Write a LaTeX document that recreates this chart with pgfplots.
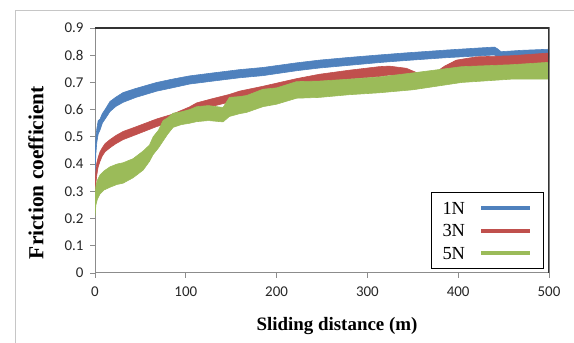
\documentclass[border=0pt]{standalone}
\usepackage{fontspec}
\setmainfont{Liberation Serif}
\newfontfamily\carlito{Carlito}
\usepackage{pgfplots}
\pgfplotsset{compat=1.18}
\usepackage{pgfplotstable}
\usepgfplotslibrary{fillbetween}
\definecolor{cblue}{HTML}{4F81BD}
\definecolor{cred}{HTML}{C0504D}
\definecolor{cgreen}{HTML}{9BBB59}
\definecolor{axgray}{HTML}{8C8C8C}

\pgfplotstableread{
x lo hi
0 0.36 0.40
0.5 0.40 0.46
1 0.44 0.50
2 0.48 0.53
3.5 0.51 0.56
5.5 0.525 0.565
8 0.55 0.585
11 0.565 0.60
16.5 0.593 0.630
23 0.612 0.646
31 0.627 0.663
45 0.645 0.678
68 0.668 0.700
85 0.680 0.712
104 0.694 0.724
130 0.705 0.735
159 0.717 0.747
185 0.725 0.755
222 0.743 0.772
247 0.753 0.782
280 0.763 0.792
313 0.773 0.801
340 0.780 0.808
387 0.791 0.819
420 0.797 0.826
440 0.801 0.830
444 0.790 0.822
447 0.786 0.813
470 0.790 0.818
500 0.793 0.822
}\tblue

\pgfplotstableread{
x lo hi
0 0.27 0.31
0.5 0.30 0.35
1 0.33 0.38
2 0.36 0.405
3.5 0.39 0.425
5.5 0.41 0.445
8 0.43 0.46
11 0.445 0.475
16.5 0.460 0.490
23 0.475 0.505
31 0.490 0.520
45 0.508 0.537
68 0.538 0.566
85 0.555 0.583
104 0.580 0.610
112 0.597 0.625
130 0.613 0.641
148 0.628 0.656
159 0.640 0.668
185 0.658 0.686
222 0.686 0.714
247 0.700 0.730
280 0.713 0.745
313 0.722 0.758
324 0.727 0.760
343 0.722 0.752
355 0.688 0.735
370 0.688 0.725
385 0.705 0.760
398 0.740 0.782
420 0.758 0.794
458 0.762 0.798
500 0.772 0.808
}\tred

\pgfplotstableread{
x lo hi
0 0.21 0.29
1 0.25 0.32
2.5 0.27 0.34
5.5 0.29 0.36
10 0.305 0.375
16.5 0.315 0.39
24 0.325 0.40
31 0.33 0.405
42 0.350 0.420
53 0.378 0.448
60 0.41 0.47
64 0.435 0.50
70 0.46 0.525
75 0.485 0.56
80 0.51 0.57
86 0.535 0.587
95 0.545 0.592
104 0.55 0.600
112 0.556 0.611
125 0.56 0.615
141 0.555 0.608
148 0.575 0.645
159 0.585 0.648
167 0.59 0.652
185 0.611 0.675
200 0.62 0.680
222 0.642 0.703
247 0.645 0.705
280 0.655 0.712
313 0.662 0.720
350 0.673 0.735
404 0.70 0.758
458 0.712 0.765
500 0.712 0.774
}\tgreen

\begin{document}
\begin{tikzpicture}
\draw[gray!45, line width=0.8bp] (15bp,0bp) -- (15bp,333bp) -- (580bp,333bp);
\begin{axis}[
  at={(95bp,70bp)}, anchor=south west,
  scale only axis, width=454bp, height=245bp,
  xmin=0, xmax=500, ymin=0, ymax=0.9,
  xtick={0,100,200,300,400,500},
  ytick={0,0.1,0.2,0.3,0.4,0.5,0.6,0.7,0.8,0.9},
  tick pos=left, tick align=outside, major tick length=5bp,
  every tick/.style={draw=axgray, line width=0.8bp},
  axis line style={draw=axgray, line width=1bp},
  /pgf/number format/assume math mode=true,
  tick label style={font=\carlito\fontsize{15}{15}\selectfont, text=black!85},
  x tick label style={yshift=-5bp},
  y tick label style={xshift=-3bp},
  xlabel={Sliding distance (m)},
  ylabel={Friction coefficient},
  xlabel style={at={(axis description cs:0.533,-0.233)}, anchor=base, font=\bfseries\fontsize{19}{19}\selectfont},
  ylabel style={at={(axis description cs:-0.13,0.41)}, anchor=center, font=\bfseries\fontsize{21.5}{21.5}\selectfont},
  legend plot pos=right,
  legend image code/.code={\draw[#1, line width=4bp] (0bp,0bp) -- (49bp,0bp); \path (0bp,-6bp) (49bp,6bp);},
  legend style={at={(rel axis cs:0.989,0.016)}, anchor=south east, draw=black, line width=0.9bp,
    font=\fontsize{18.5}{18.5}\selectfont, inner xsep=11.5bp, inner ysep=9bp, row sep=9.5bp, column sep=14bp,
    nodes={inner sep=0bp, text height=12bp, text depth=0bp}, cells={anchor=west}},
]
\addplot[draw=none, forget plot, name path=bu] table[x=x, y=hi] {\tblue};
\addplot[draw=none, forget plot, name path=bl] table[x=x, y=lo] {\tblue};
\addplot[fill=cblue, draw=cblue, line width=0.6bp, forget plot] fill between[of=bu and bl];
\addplot[draw=none, forget plot, name path=ru] table[x=x, y=hi] {\tred};
\addplot[draw=none, forget plot, name path=rl] table[x=x, y=lo] {\tred};
\addplot[fill=cred, draw=cred, line width=0.6bp, forget plot] fill between[of=ru and rl];
\addplot[draw=none, forget plot, name path=gu] table[x=x, y=hi] {\tgreen};
\addplot[draw=none, forget plot, name path=gl] table[x=x, y=lo] {\tgreen};
\addplot[fill=cgreen, draw=cgreen, line width=0.6bp, forget plot] fill between[of=gu and gl];
\addlegendimage{cblue}
\addlegendentry{1N}
\addlegendimage{cred}
\addlegendentry{3N}
\addlegendimage{cgreen}
\addlegendentry{5N}
\draw[black!80, line width=1.6bp] (rel axis cs:0,1) -- (rel axis cs:1,1) -- (rel axis cs:1,0);
\end{axis}
\pgfresetboundingbox
\useasboundingbox (0bp,0bp) rectangle (574bp,343bp);
\end{tikzpicture}
\end{document}
